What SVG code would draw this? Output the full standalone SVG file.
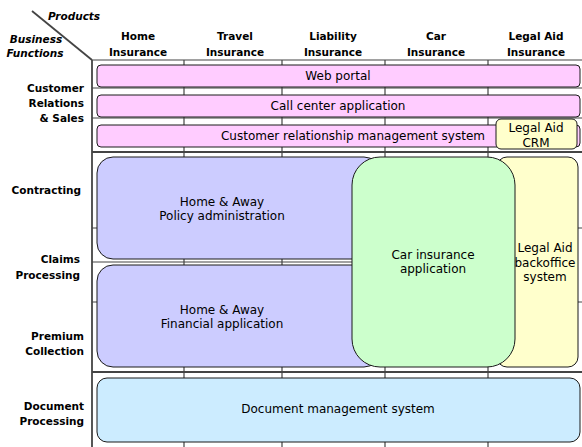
<svg xmlns="http://www.w3.org/2000/svg" width="582" height="447" viewBox="0 0 582 447">
  <style>
    .grid { stroke: #444; stroke-width: 1.2; fill: none; }
    .axis { stroke: #444; stroke-width: 1.8; fill: none; }
    .box { stroke: #1a1a1a; stroke-width: 1; }
    .pink { fill: #FFCCFF; }
    .yellow { fill: #FFFFCC; }
    .lav { fill: #CCCCFF; }
    .green { fill: #CCFFCC; }
    .sky { fill: #CCECFF; }
    text { font-family: "DejaVu Sans", "Liberation Sans", sans-serif; fill: #000; }
    .lbl { font-size: 12px; text-anchor: middle; }
    .hdr { font-size: 10.5px; font-weight: bold; text-anchor: middle; }
    .fn { font-size: 10.5px; font-weight: bold; text-anchor: end; }
    .corner { font-size: 10.5px; font-weight: bold; font-style: italic; text-anchor: middle; }
  </style>
  <rect width="582" height="447" fill="#fff"/>

  <!-- matrix grid -->
  <g id="grid">
    <line class="axis" x1="32" y1="11" x2="92" y2="60"/>
    <line class="axis" x1="92" y1="60" x2="92" y2="447"/>
    <line class="grid" x1="92" y1="60" x2="582" y2="60"/>
    <line class="grid" x1="92" y1="88" x2="582" y2="88"/>
    <line class="grid" x1="92" y1="118" x2="582" y2="118"/>
    <line class="axis" x1="92" y1="152" x2="582" y2="152"/>
    <line class="grid" x1="92" y1="228" x2="582" y2="228"/>
    <line class="grid" x1="92" y1="262" x2="500" y2="262"/>
    <line class="grid" x1="92" y1="302" x2="582" y2="302"/>
    <line class="axis" x1="92" y1="372" x2="582" y2="372"/>
    <line class="grid" x1="184" y1="60" x2="184" y2="447"/>
    <line class="grid" x1="282" y1="60" x2="282" y2="447"/>
    <line class="grid" x1="385" y1="60" x2="385" y2="447"/>
    <line class="grid" x1="488" y1="60" x2="488" y2="447"/>
  </g>

  <!-- axis captions -->
  <g id="corner">
    <text class="corner" x="74" y="20">Products</text>
    <text class="corner" x="36" y="43">Business</text>
    <text class="corner" x="35" y="57">Functions</text>
  </g>

  <!-- product columns -->
  <g id="products">
    <text class="hdr" x="138" y="40">Home</text>
    <text class="hdr" x="138" y="56">Insurance</text>
    <text class="hdr" x="235" y="40">Travel</text>
    <text class="hdr" x="235" y="56">Insurance</text>
    <text class="hdr" x="333" y="40">Liability</text>
    <text class="hdr" x="333" y="56">Insurance</text>
    <text class="hdr" x="436" y="40">Car</text>
    <text class="hdr" x="436" y="56">Insurance</text>
    <text class="hdr" x="536" y="40">Legal Aid</text>
    <text class="hdr" x="536" y="56">Insurance</text>
  </g>

  <!-- business function rows -->
  <g id="functions">
    <text class="fn" x="84" y="92">Customer</text>
    <text class="fn" x="84" y="107">Relations</text>
    <text class="fn" x="84" y="122">&amp; Sales</text>
    <text class="fn" x="81" y="194">Contracting</text>
    <text class="fn" x="80" y="263">Claims</text>
    <text class="fn" x="80" y="279">Processing</text>
    <text class="fn" x="84" y="340">Premium</text>
    <text class="fn" x="84" y="355">Collection</text>
    <text class="fn" x="84" y="410">Document</text>
    <text class="fn" x="84" y="425">Processing</text>
  </g>

  <!-- applications -->
  <g id="web-portal">
    <rect class="box pink" x="97" y="65" width="483" height="22" rx="4"/>
    <text class="lbl" x="338" y="80">Web portal</text>
  </g>
  <g id="call-center">
    <rect class="box pink" x="97" y="95" width="483" height="22" rx="4"/>
    <text class="lbl" x="338" y="110">Call center application</text>
  </g>
  <g id="crm">
    <rect class="box pink" x="97" y="125" width="483" height="22" rx="4"/>
    <text class="lbl" x="353" y="140">Customer relationship management system</text>
  </g>
  <g id="legal-aid-crm">
    <rect class="box yellow" x="496" y="119" width="81" height="30" rx="5"/>
    <text class="lbl" x="536" y="132">Legal Aid</text>
    <text class="lbl" x="536" y="147">CRM</text>
  </g>
  <g id="policy-admin">
    <rect class="box lav" x="97" y="157" width="283" height="102" rx="16"/>
    <text class="lbl" x="222" y="206">Home &amp; Away</text>
    <text class="lbl" x="222" y="220">Policy administration</text>
  </g>
  <g id="financial-app">
    <rect class="box lav" x="97" y="265" width="283" height="102" rx="16"/>
    <text class="lbl" x="222" y="314">Home &amp; Away</text>
    <text class="lbl" x="222" y="328">Financial application</text>
  </g>
  <g id="legal-aid-backoffice">
    <rect class="box yellow" x="497" y="157" width="81" height="210" rx="10"/>
    <text class="lbl" x="545" y="252">Legal Aid</text>
    <text class="lbl" x="545" y="267">backoffice</text>
    <text class="lbl" x="545" y="281">system</text>
  </g>
  <g id="car-app">
    <rect class="box green" x="352" y="157" width="163" height="210" rx="28"/>
    <text class="lbl" x="433" y="259">Car insurance</text>
    <text class="lbl" x="433" y="273">application</text>
  </g>
  <g id="document-mgmt">
    <rect class="box sky" x="97" y="378" width="483" height="64" rx="10"/>
    <text class="lbl" x="338" y="413">Document management system</text>
  </g>
</svg>
